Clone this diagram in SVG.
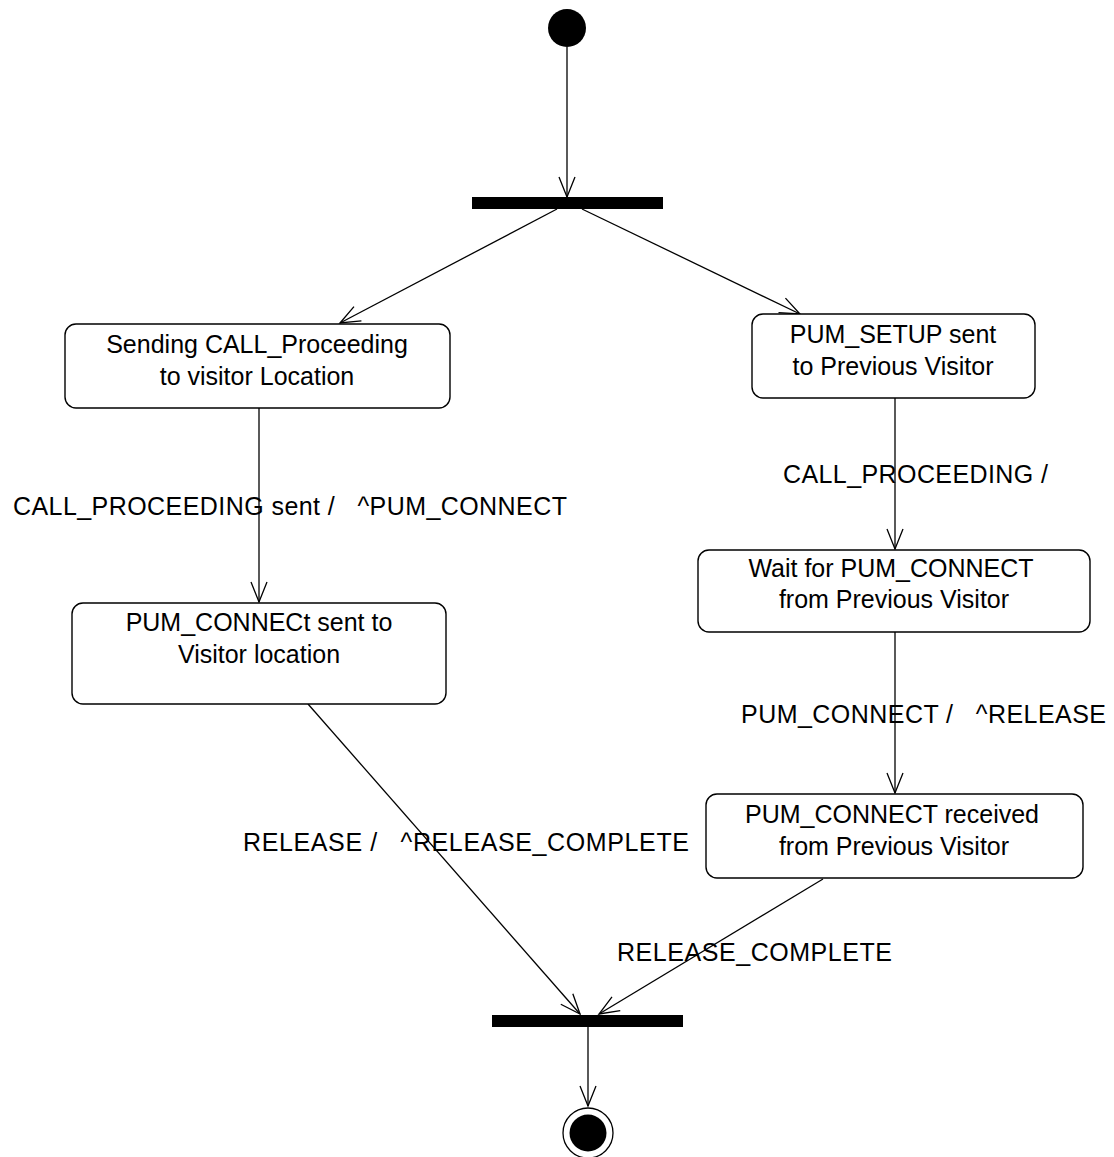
<svg xmlns="http://www.w3.org/2000/svg" width="1114" height="1157" viewBox="0 0 1114 1157">
<style>
  .state { fill: #ffffff; stroke: #000000; stroke-width: 1.4; }
  .bar { fill: #000000; }
  .edge { fill: none; stroke: #000000; stroke-width: 1.3; marker-end: url(#arrow); }
  .txt { font-family: "Liberation Sans", Arial, sans-serif; font-size: 25px; fill: #000000; }
  .c { text-anchor: middle; }
  .lbl { white-space: pre; }
</style>
<defs>
  <marker id="arrow" markerUnits="userSpaceOnUse" markerWidth="26" markerHeight="24" viewBox="-22 -12 24 24" refX="0" refY="0" orient="auto">
    <path d="M-20,-8 L0,0 L-20,8" fill="none" stroke="#000000" stroke-width="1.3"/>
  </marker>
</defs>
<rect width="1114" height="1157" fill="#ffffff"/>

<g id="edges">
  <line class="edge" x1="567" y1="47" x2="567" y2="197"/>
  <line class="edge" x1="557" y1="209" x2="340" y2="323"/>
  <line class="edge" x1="582" y1="209" x2="800" y2="314"/>
  <line class="edge" x1="259" y1="408" x2="259" y2="602"/>
  <line class="edge" x1="895" y1="398" x2="895" y2="549"/>
  <line class="edge" x1="895" y1="632" x2="895" y2="793"/>
  <line class="edge" x1="308" y1="704" x2="580" y2="1014"/>
  <line class="edge" x1="823" y1="879" x2="599" y2="1014"/>
  <line class="edge" x1="588" y1="1027" x2="588" y2="1106"/>
  <text class="txt lbl" x="13" y="515" textLength="554" lengthAdjust="spacing" xml:space="preserve">CALL_PROCEEDING sent /   ^PUM_CONNECT</text>
  <text class="txt lbl" x="783" y="483" textLength="265" lengthAdjust="spacing" xml:space="preserve">CALL_PROCEEDING /</text>
  <text class="txt lbl" x="741" y="723" textLength="365" lengthAdjust="spacing" xml:space="preserve">PUM_CONNECT /   ^RELEASE</text>
  <text class="txt lbl" x="243" y="851" textLength="446" lengthAdjust="spacing" xml:space="preserve">RELEASE /   ^RELEASE_COMPLETE</text>
  <text class="txt lbl" x="617" y="961" textLength="275" lengthAdjust="spacing" xml:space="preserve">RELEASE_COMPLETE</text>
</g>

<g id="initial">
  <circle cx="567" cy="28" r="19" fill="#000000"/>
</g>

<g id="fork">
  <rect class="bar" x="472" y="197" width="191" height="12"/>
</g>

<g id="sendingCallProceeding">
  <rect class="state" x="65" y="324" width="385" height="84" rx="11" ry="11"/>
  <text class="txt c" x="257" y="353">Sending CALL_Proceeding</text>
  <text class="txt c" x="257" y="385">to visitor Location</text>
</g>

<g id="pumSetupSent">
  <rect class="state" x="752" y="314" width="283" height="84" rx="11" ry="11"/>
  <text class="txt c" x="893" y="343">PUM_SETUP sent</text>
  <text class="txt c" x="893" y="375">to Previous Visitor</text>
</g>

<g id="pumConnectSent">
  <rect class="state" x="72" y="603" width="374" height="101" rx="11" ry="11"/>
  <text class="txt c" x="259" y="631">PUM_CONNECt sent to</text>
  <text class="txt c" x="259" y="663">Visitor location</text>
</g>

<g id="waitForPumConnect">
  <rect class="state" x="698" y="550" width="392" height="82" rx="11" ry="11"/>
  <text class="txt c" x="891" y="577">Wait for PUM_CONNECT</text>
  <text class="txt c" x="894" y="608">from Previous Visitor</text>
</g>

<g id="pumConnectReceived">
  <rect class="state" x="706" y="794" width="377" height="84" rx="11" ry="11"/>
  <text class="txt c" x="892" y="823">PUM_CONNECT received</text>
  <text class="txt c" x="894" y="855">from Previous Visitor</text>
</g>

<g id="join">
  <rect class="bar" x="492" y="1015" width="191" height="12"/>
</g>

<g id="final">
  <circle cx="588" cy="1133" r="25" fill="none" stroke="#000000" stroke-width="1.3"/>
  <circle cx="588" cy="1133" r="18.5" fill="#000000"/>
</g>
</svg>
